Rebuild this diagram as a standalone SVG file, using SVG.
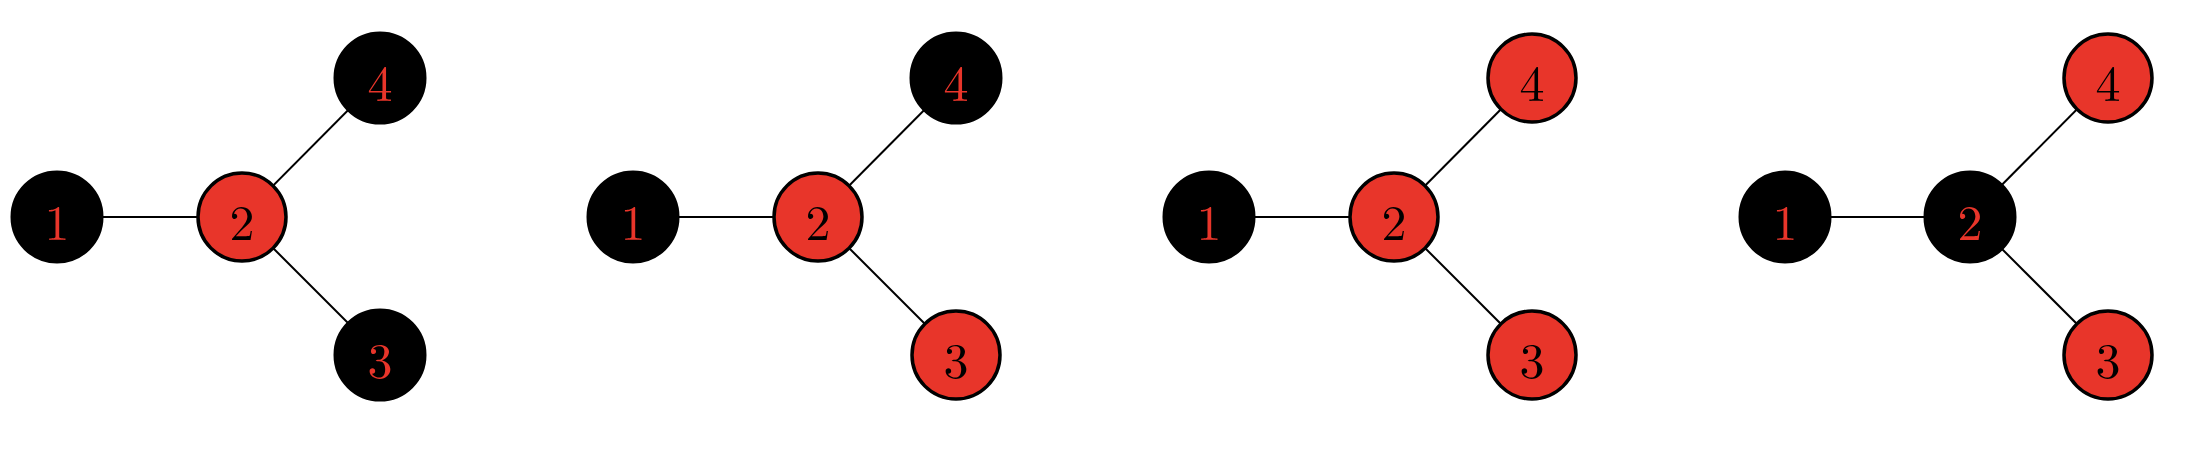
<svg xmlns="http://www.w3.org/2000/svg" width="2190" height="460" viewBox="0 0 2190 460">
<style>
.b circle{fill:#000;stroke:#000;stroke-width:3}
.b text{fill:#e8352a}
.r circle{fill:#e8352a;stroke:#000;stroke-width:3.5}
.r text{fill:#000}
text{font-family:"Latin Modern Roman","Liberation Serif",serif;font-size:50px;text-anchor:middle;dominant-baseline:central}
.e line{stroke:#000;stroke-width:2}
</style>
<rect width="2190" height="460" fill="#fff"/>
<defs>
<g id="edges" class="e"><line x1="57" y1="217" x2="242" y2="217"/><line x1="242" y1="217" x2="380" y2="78"/><line x1="242" y1="217" x2="380" y2="355"/></g>
</defs>
<g id="connectors">
<use href="#edges"/><use href="#edges" x="576"/><use href="#edges" x="1152"/><use href="#edges" x="1728"/>
</g>
<g id="p1">
<g id="p1n1" class="b"><circle cx="57" cy="217" r="45"/><text x="57" y="219">1</text></g>
<g id="p1n2" class="r"><circle cx="242" cy="217" r="44"/><text x="242" y="219">2</text></g>
<g id="p1n4" class="b"><circle cx="380" cy="78" r="45"/><text x="380" y="80">4</text></g>
<g id="p1n3" class="b"><circle cx="380" cy="355" r="45"/><text x="380" y="357">3</text></g>
</g>
<g id="p2" transform="translate(576,0)">
<g id="p2n1" class="b"><circle cx="57" cy="217" r="45"/><text x="57" y="219">1</text></g>
<g id="p2n2" class="r"><circle cx="242" cy="217" r="44"/><text x="242" y="219">2</text></g>
<g id="p2n4" class="b"><circle cx="380" cy="78" r="45"/><text x="380" y="80">4</text></g>
<g id="p2n3" class="r"><circle cx="380" cy="355" r="44"/><text x="380" y="357">3</text></g>
</g>
<g id="p3" transform="translate(1152,0)">
<g id="p3n1" class="b"><circle cx="57" cy="217" r="45"/><text x="57" y="219">1</text></g>
<g id="p3n2" class="r"><circle cx="242" cy="217" r="44"/><text x="242" y="219">2</text></g>
<g id="p3n4" class="r"><circle cx="380" cy="78" r="44"/><text x="380" y="80">4</text></g>
<g id="p3n3" class="r"><circle cx="380" cy="355" r="44"/><text x="380" y="357">3</text></g>
</g>
<g id="p4" transform="translate(1728,0)">
<g id="p4n1" class="b"><circle cx="57" cy="217" r="45"/><text x="57" y="219">1</text></g>
<g id="p4n2" class="b"><circle cx="242" cy="217" r="45"/><text x="242" y="219">2</text></g>
<g id="p4n4" class="r"><circle cx="380" cy="78" r="44"/><text x="380" y="80">4</text></g>
<g id="p4n3" class="r"><circle cx="380" cy="355" r="44"/><text x="380" y="357">3</text></g>
</g>
</svg>
